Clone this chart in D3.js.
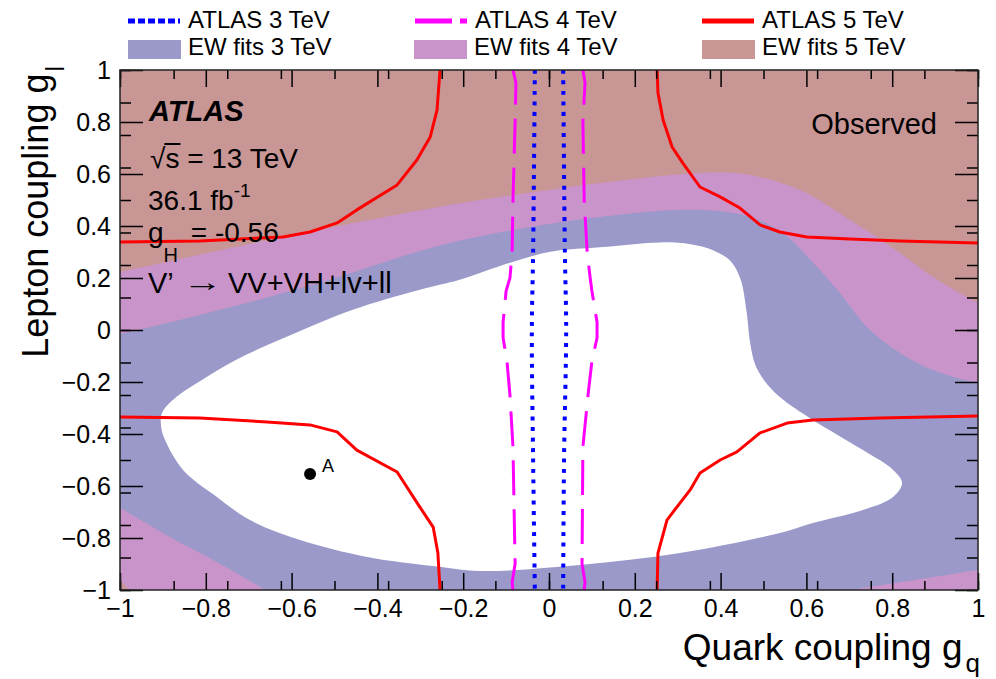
<!DOCTYPE html>
<html>
<head>
<meta charset="utf-8">
<script src="https://cdn.jsdelivr.net/npm/d3@7"></script>
<style>
  body { margin: 0; background: #fff; }
  svg text { font-family: "Liberation Sans", Arial, Helvetica, sans-serif; fill: #000; }
</style>
</head>
<body>
<svg id="chart" width="996" height="679"></svg>
<script>
// ---- axis ticks ----
const majorTicks = [-1, -0.8, -0.6, -0.4, -0.2, 0, 0.2, 0.4, 0.6, 0.8, 1];
const tickLabels = ["\u22121", "\u22120.8", "\u22120.6", "\u22120.4", "\u22120.2", "0", "0.2", "0.4", "0.6", "0.8", "1"];
const minorTicks = d3.range(-40, 41, 5).map(d => d / 40);

// ---- EW fit regions, outer boundaries (gq, gl) ----
// allowed region of the 3 TeV electroweak fit (white)
const ewFit3Allowed = [
  [-0.904, -0.373], [-0.902, -0.319], [-0.869, -0.258], [-0.809, -0.192], [-0.730, -0.115],
  [-0.613, -0.027], [-0.459, 0.077], [-0.303, 0.154], [-0.210, 0.192], [-0.114, 0.246],
  [0.0, 0.300], [0.119, 0.318], [0.26, 0.337], [0.33, 0.330], [0.385, 0.305],
  [0.425, 0.262], [0.447, 0.192], [0.460, 0.077], [0.469, -0.050], [0.480, -0.130],
  [0.500, -0.190], [0.538, -0.258], [0.615, -0.346], [0.732, -0.462], [0.802, -0.538],
  [0.823, -0.588], [0.802, -0.642], [0.732, -0.692], [0.615, -0.742], [0.538, -0.781],
  [0.305, -0.858], [0.072, -0.904], [-0.161, -0.927], [-0.270, -0.908], [-0.424, -0.873],
  [-0.580, -0.808], [-0.697, -0.731], [-0.774, -0.642], [-0.853, -0.538], [-0.895, -0.423]
];
// 3 TeV band (blue)
const ewFit3Band = [
  [-1.15, -0.06], [-1.0, -0.015], [-0.769, 0.077], [-0.536, 0.181], [-0.231, 0.335],
  [0.119, 0.435], [0.352, 0.462], [0.469, 0.435], [0.545, 0.373], [0.625, 0.242],
  [0.678, 0.142], [0.741, 0.012], [0.818, -0.088], [0.895, -0.154], [1.0, -0.204],
  [1.15, -0.24], [1.22, -0.6], [1.15, -0.884], [1.0, -0.923], [0.83, -0.967],
  [0.655, -1.012], [0.5, -1.052], [0.0, -1.2], [-0.6, -1.06], [-0.657, -1.004],
  [-0.77, -0.896], [-0.89, -0.79], [-1.0, -0.685], [-1.15, -0.545], [-1.25, -0.3]
];
// 4 TeV band (pink)
const ewFit4Band = [
  [-1.15, 0.17], [-1.0, 0.223], [-0.653, 0.346], [-0.231, 0.481], [0.0, 0.538],
  [0.119, 0.565], [0.352, 0.604], [0.469, 0.596], [0.585, 0.538], [0.702, 0.423],
  [0.818, 0.296], [0.895, 0.204], [1.0, 0.104], [1.15, -0.02], [1.25, -0.5],
  [1.25, -1.2], [0.0, -1.3], [-0.9, -1.15], [-0.925, -1.1], [-0.977, -1.004],
  [-1.0, -0.962], [-1.05, -0.87], [-1.2, -0.5]
];

// ---- ATLAS observed exclusion contours ----
const atlas5TopLeft = [
  [-1.0, 0.338], [-0.814, 0.342], [-0.620, 0.358], [-0.557, 0.377], [-0.494, 0.412],
  [-0.448, 0.462], [-0.354, 0.558], [-0.308, 0.654], [-0.277, 0.742], [-0.261, 0.846], [-0.254, 1.0]
];
const atlas5TopRight = [
  [0.252, 1.0], [0.254, 0.912], [0.266, 0.808], [0.287, 0.704], [0.312, 0.642],
  [0.352, 0.550], [0.399, 0.512], [0.445, 0.469], [0.492, 0.404], [0.538, 0.377],
  [0.601, 0.358], [0.702, 0.350], [0.818, 0.342], [1.0, 0.335]
];
const atlas5BottomLeft = [
  [-1.0, -0.335], [-0.814, -0.338], [-0.657, -0.354], [-0.557, -0.365], [-0.494, -0.392],
  [-0.448, -0.462], [-0.354, -0.546], [-0.301, -0.681], [-0.270, -0.758], [-0.259, -0.858], [-0.254, -1.0]
];
const atlas5BottomRight = [
  [0.252, -1.0], [0.254, -0.858], [0.275, -0.731], [0.298, -0.681], [0.329, -0.615],
  [0.352, -0.550], [0.399, -0.500], [0.438, -0.469], [0.492, -0.396], [0.555, -0.358],
  [0.615, -0.346], [0.772, -0.338], [1.0, -0.331]
];
const atlas4Left = [
  [-0.084, 1.0], [-0.077, 0.95], [-0.079, 0.8], [-0.084, 0.5], [-0.086, 0.3],
  [-0.091, 0.2], [-0.100, 0.15], [-0.107, 0.03], [-0.107, -0.03], [-0.098, -0.12],
  [-0.091, -0.25], [-0.084, -0.45], [-0.079, -0.9], [-0.086, -0.97], [-0.084, -1.0]
];
const atlas4Right = [
  [0.079, 1.0], [0.084, 0.95], [0.079, 0.8], [0.082, 0.5], [0.089, 0.3],
  [0.096, 0.2], [0.100, 0.15], [0.112, 0.03], [0.112, -0.03], [0.100, -0.12],
  [0.091, -0.25], [0.079, -0.45], [0.077, -0.9], [0.084, -0.97], [0.082, -1.0]
];
const atlas3Left = [[-0.033, 1.0], [-0.037, 0.3], [-0.040, 0.0], [-0.037, -0.5], [-0.033, -1.0]];
const atlas3Right = [[0.033, 1.0], [0.037, 0.3], [0.040, 0.0], [0.035, -0.5], [0.033, -1.0]];

// benchmark point A
const pointA = { gq: -0.557, gl: -0.554, label: "A" };

// legend
const legendLines = [
  { label: "ATLAS 3 TeV", color: "#0000ff", dash: "7,3", x: 128 },
  { label: "ATLAS 4 TeV", color: "#ff00ff", dash: "37,8,7,60", x: 415 },
  { label: "ATLAS 5 TeV", color: "#ff0000", dash: null, x: 702 }
];
const legendFills = [
  { label: "EW fits 3 TeV", color: "#9a99ca", x: 128 },
  { label: "EW fits 4 TeV", color: "#c994c9", x: 414 },
  { label: "EW fits 5 TeV", color: "#c99696", x: 702 }
];

// ---- drawing ----
const svg = d3.select("#chart");
const x = d3.scaleLinear().domain([-1, 1]).range([120, 978]);
const y = d3.scaleLinear().domain([-1, 1]).range([590, 70]);

svg.append("defs").append("clipPath").attr("id", "plotClip")
  .append("rect").attr("x", 120).attr("y", 70).attr("width", 858).attr("height", 520);

const plot = svg.append("g").attr("clip-path", "url(#plotClip)");

const area = d3.line().x(d => x(d[0])).y(d => y(d[1])).curve(d3.curveCatmullRomClosed.alpha(0.5));
const curve = d3.line().x(d => x(d[0])).y(d => y(d[1])).curve(d3.curveCatmullRom.alpha(0.5));
const poly = d3.line().x(d => x(d[0])).y(d => y(d[1]));

plot.append("rect").attr("x", x(-1)).attr("y", y(1))
  .attr("width", x(1) - x(-1)).attr("height", y(-1) - y(1)).attr("fill", "#c99696");
plot.append("path").attr("d", area(ewFit4Band)).attr("fill", "#c994c9");
plot.append("path").attr("d", area(ewFit3Band)).attr("fill", "#9a99ca");
plot.append("path").attr("d", area(ewFit3Allowed)).attr("fill", "#ffffff");

[atlas5TopLeft, atlas5TopRight, atlas5BottomLeft, atlas5BottomRight].forEach(c => {
  plot.append("path").attr("d", poly(c)).attr("fill", "none")
    .attr("stroke", "#ff0000").attr("stroke-width", 3).attr("stroke-linejoin", "round");
});
[atlas4Left, atlas4Right].forEach(c => {
  plot.append("path").attr("d", poly(c)).attr("fill", "none")
    .attr("stroke", "#ff00ff").attr("stroke-width", 3).attr("stroke-dasharray", "35,14");
});
[atlas3Left, atlas3Right].forEach(c => {
  plot.append("path").attr("d", curve(c)).attr("fill", "none")
    .attr("stroke", "#0000ff").attr("stroke-width", 4).attr("stroke-dasharray", "4,6.5");
});

plot.append("circle").attr("cx", x(pointA.gq)).attr("cy", y(pointA.gl)).attr("r", 6).attr("fill", "#000");
svg.append("text").attr("x", x(pointA.gq) + 12).attr("y", y(pointA.gl) - 2)
  .attr("font-size", 18).text(pointA.label);

// ---- annotations ----
const ann = svg.append("g");
ann.append("text").attr("x", 149).attr("y", 121).attr("font-size", 29)
  .attr("font-weight", "bold").attr("font-style", "italic").text("ATLAS");

const sq = ann.append("text").attr("x", 150).attr("y", 168).attr("font-size", 28);
sq.append("tspan").text("\u221A");
sq.append("tspan").text("s = 13 TeV");
{
  const node = sq.node();
  const w0 = node.getSubStringLength(0, 1);
  const w1 = node.getSubStringLength(1, 1);
  ann.append("line").attr("x1", 150 + w0 - 1).attr("x2", 150 + w0 + w1 + 1)
    .attr("y1", 144).attr("y2", 144).attr("stroke", "#000").attr("stroke-width", 2);
}

const lumi = ann.append("text").attr("x", 148).attr("y", 210).attr("font-size", 28);
lumi.append("tspan").text("36.1 fb");
lumi.append("tspan").attr("font-size", 19).attr("dy", -13).text("-1");

const gh = ann.append("text").attr("x", 148).attr("y", 242).attr("font-size", 28);
gh.append("tspan").text("g");
gh.append("tspan").attr("font-size", 20).attr("dy", 20).text("H");
gh.append("tspan").attr("dy", -20).attr("dx", 5).text(" = -0.56");

// process line: V' -> VV+VH+lv+ll, with a long arrow
ann.append("text").attr("x", 148).attr("y", 293).attr("font-size", 29).text("V\u2019");
ann.append("text").attr("x", 183).attr("y", 291).attr("font-size", 26)
  .attr("font-family", '"DejaVu Sans", sans-serif')
  .attr("textLength", 40).attr("lengthAdjust", "spacingAndGlyphs").text("\u2192");
ann.append("text").attr("x", 228).attr("y", 293).attr("font-size", 29).text("VV+VH+lv+ll");

ann.append("text").attr("x", 937).attr("y", 134).attr("font-size", 29)
  .attr("text-anchor", "end").text("Observed");

// ---- axes ----
const fontFam = '"Liberation Sans", Arial, Helvetica, sans-serif';
function styleAxis(g) {
  g.select(".domain").remove();
  g.selectAll("line").attr("stroke", "#000").attr("stroke-width", 1.5);
  g.attr("font-family", fontFam).attr("font-size", 25);
  g.selectAll("text").attr("fill", "#000");
}
const fmt = v => tickLabels[majorTicks.findIndex(t => Math.abs(t - v) < 1e-9)];

svg.append("g").attr("transform", `translate(0,${y(-1)})`)
  .call(d3.axisBottom(x).tickValues(minorTicks).tickSize(-9).tickFormat("")).call(styleAxis);
svg.append("g").attr("transform", `translate(0,${y(-1)})`)
  .call(d3.axisBottom(x).tickValues(majorTicks).tickSize(-17).tickPadding(9).tickFormat(fmt)).call(styleAxis);
svg.append("g").attr("transform", `translate(0,${y(1)})`)
  .call(d3.axisTop(x).tickValues(minorTicks).tickSize(-9).tickFormat("")).call(styleAxis);
svg.append("g").attr("transform", `translate(0,${y(1)})`)
  .call(d3.axisTop(x).tickValues(majorTicks).tickSize(-17).tickFormat("")).call(styleAxis);

svg.append("g").attr("transform", `translate(${x(-1)},0)`)
  .call(d3.axisLeft(y).tickValues(minorTicks).tickSize(-11).tickFormat("")).call(styleAxis);
svg.append("g").attr("transform", `translate(${x(-1)},0)`)
  .call(d3.axisLeft(y).tickValues(majorTicks).tickSize(-23).tickPadding(9).tickFormat(fmt)).call(styleAxis);
svg.append("g").attr("transform", `translate(${x(1)},0)`)
  .call(d3.axisRight(y).tickValues(minorTicks).tickSize(-11).tickFormat("")).call(styleAxis);
svg.append("g").attr("transform", `translate(${x(1)},0)`)
  .call(d3.axisRight(y).tickValues(majorTicks).tickSize(-23).tickFormat("")).call(styleAxis);

svg.append("rect").attr("x", x(-1)).attr("y", y(1))
  .attr("width", x(1) - x(-1)).attr("height", y(-1) - y(1))
  .attr("fill", "none").attr("stroke", "#222").attr("stroke-width", 1.5);

// axis titles
const xt = svg.append("text").attr("x", 980).attr("y", 660).attr("font-size", 37).attr("text-anchor", "end");
xt.append("tspan").text("Quark coupling g");
xt.append("tspan").attr("font-size", 26).attr("dy", 12).attr("dx", 3).text("q");

const yt = svg.append("text").attr("transform", "translate(48,66) rotate(-90)")
  .attr("font-size", 36).attr("text-anchor", "end");
yt.append("tspan").text("Lepton coupling g");
yt.append("tspan").attr("font-size", 25).attr("dy", 16).attr("dx", 2).text("l");

// ---- legend ----
const leg = svg.append("g");
legendLines.forEach(d => {
  const l = leg.append("line").attr("x1", d.x).attr("x2", d.x + 52).attr("y1", 21).attr("y2", 21)
    .attr("stroke", d.color).attr("stroke-width", 5);
  if (d.dash) l.attr("stroke-dasharray", d.dash);
  leg.append("text").attr("x", d.x + 60).attr("y", 28).attr("font-size", 24).text(d.label);
});
legendFills.forEach(d => {
  leg.append("rect").attr("x", d.x).attr("y", 40).attr("width", 53).attr("height", 19).attr("fill", d.color);
  leg.append("text").attr("x", d.x + 60).attr("y", 55).attr("font-size", 24).text(d.label);
});
</script>
</body>
</html>
